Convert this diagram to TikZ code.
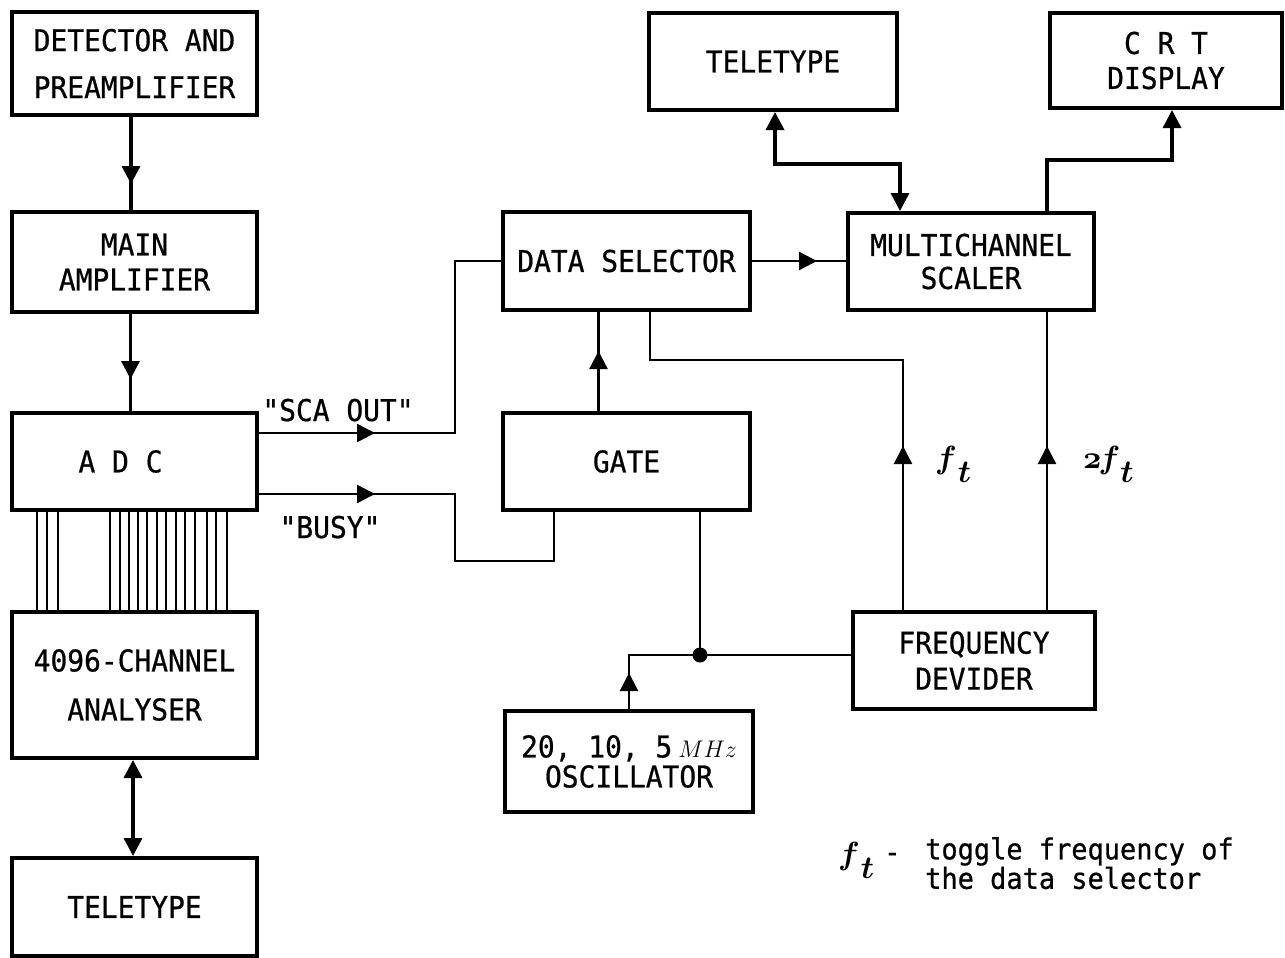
\RequirePackage{fix-cm}
\documentclass[tikz,border=0pt]{standalone}
\usepackage{fontspec}
\setmonofont{DejaVu Sans Mono}[FakeStretch=0.93, FakeBold=0.7]
\usetikzlibrary{arrows.meta,decorations.markings,calc}
\tikzset{
  >={Triangle[length=18pt,width=18pt]},
  box/.style={draw, line width=4pt, rectangle, align=center, inner sep=0pt,
    font=\ttfamily\fontsize{30}{35}\selectfont},
  conn/.style={line width=2.4pt},
  thick conn/.style={line width=3.4pt},
  lab/.style={font=\ttfamily\fontsize{30}{35}\selectfont, inner sep=0pt},
  mlab/.style={font=\fontsize{32}{32}\selectfont\boldmath, inner sep=0pt},
  legfont/.style={font=\ttfamily\fontsize{29}{28}\selectfont},
  bus/.style={line width=2.8pt},
  arrowat/.style={postaction={decorate}, decoration={markings,
    mark=at position #1 with {\arrow{>}}}},
}
\begin{document}
\begin{tikzpicture}[x=1pt,y=-1pt]
\useasboundingbox (0,0) rectangle (1285,958);
% left column
\node[box, minimum width=245pt, minimum height=103pt] (det) at (134.5,63.5) {DETECTOR AND\\[12pt]PREAMPLIFIER};
\node[box, minimum width=245pt, minimum height=100pt] (main) at (134.5,262) {MAIN\\[0pt]AMPLIFIER};
\node[box, minimum width=245pt, minimum height=97pt] (adc) at (134.5,461.5) {A D C\kern28pt};
\node[box, minimum width=245pt, minimum height=146pt] (ana) at (134.5,685) {4096-CHANNEL\\[14pt]ANALYSER};
\node[box, minimum width=245pt, minimum height=98pt] (tty1) at (134.5,907) {TELETYPE};
% middle
\node[box, minimum width=247pt, minimum height=98pt] (ds) at (626.5,261) {DATA SELECTOR};
\node[box, minimum width=247pt, minimum height=97pt] (gate) at (626.5,461.5) {GATE};
\node[box, minimum width=248pt, minimum height=101pt] (osc) at (629,761.5) {20, 10, 5\hspace{6pt}{\rmfamily\fontsize{24}{24}\selectfont$MHz$}\\[-5pt]OSCILLATOR};
% right
\node[box, minimum width=248pt, minimum height=97pt] (tty2) at (773,61.5) {TELETYPE};
\node[box, minimum width=232pt, minimum height=95pt] (crt) at (1166,60.5) {C R T\\[0pt]DISPLAY};
\node[box, minimum width=246pt, minimum height=97pt] (mcs) at (971,261.5) {MULTICHANNEL\\[-2pt]SCALER};
\node[box, minimum width=242pt, minimum height=97pt] (freq) at (974,660.5) {FREQUENCY\\[1pt]DEVIDER};
% left column connectors
\draw[thick conn, arrowat=67pt] ([xshift=-3.5pt]det.south) -- ([xshift=-3.5pt]main.north);
\draw[thick conn, arrowat=65pt] ([xshift=-4pt]main.south) -- ([xshift=-4pt]adc.north);
\draw[thick conn, <->] ([xshift=-1.5pt]ana.south) -- ([xshift=-1.5pt]tty1.north);
\foreach \dx in {27,37,48,100,110,119,128,137,147,156,166,175,185,197,206,217}
  \draw[bus] ([xshift=\dx pt]adc.south west) -- ([xshift=\dx pt]ana.north west);
% signals
\draw[conn, arrowat=116pt] ([yshift=28.5pt]adc.east) -- ++(196,0) |- (ds.west);
\draw[conn, arrowat=116pt] ([yshift=-32.5pt]adc.east) -- ++(196,0) -- ++(0,67) -| ([xshift=-72.5pt]gate.south);
\node[lab, anchor=base] (scal) at (338,421) {"SCA OUT"};
\node[lab, anchor=base] (busyl) at (330,538) {"BUSY"};
\draw[conn, arrowat=60pt] ([xshift=-28pt]gate.north) -- ([xshift=-28pt]ds.south);
\draw[conn, arrowat=65pt] (ds.east) -- (ds.east -| mcs.west);
% oscillator junction
\coordinate (j) at (700,655);
\draw[conn] ([xshift=73.5pt]gate.south) -- (j);
\draw[conn, arrowat=36pt] (osc.north) |- (j);
\draw[conn] (j) -- (j -| freq.west);
\fill (j) circle (7.5pt);
% frequency divider outputs
\draw[conn, arrowat=164pt] ([xshift=-71pt]freq.north) -- ++(0,-250) -| ([xshift=23.5pt]ds.south);
\draw[conn, arrowat=164pt] ([xshift=73pt]freq.north) -- ([xshift=73pt]freq.north |- mcs.south);
\node[mlab, anchor=base west] (ftl) at (935,468) {$f$\kern1pt\raisebox{-14pt}{$t$}};
\node[mlab, anchor=base west] (ftl2) at (1083,468) {$\mathnormal{2}\kern-3pt f$\raisebox{-14pt}{$t$}};
% top connectors
\draw[thick conn, <->] ([xshift=2pt]tty2.south) -- ++(0,52) -| ([xshift=-71pt]mcs.north);
\draw[thick conn, ->] ([xshift=76pt]mcs.north) -- ++(0,-51) -| ([xshift=6pt]crt.south);
% legend
\node[mlab, anchor=base west] (legf) at (838,864) {$f$\kern1pt\raisebox{-14pt}{$t$}};
\node[lab, legfont, anchor=base west] (legd) at (884,862) {-};
\node[lab, legfont, anchor=north west, align=left] (legt) at (925,837) {toggle frequency of\\the data selector};
\end{tikzpicture}
\end{document}
